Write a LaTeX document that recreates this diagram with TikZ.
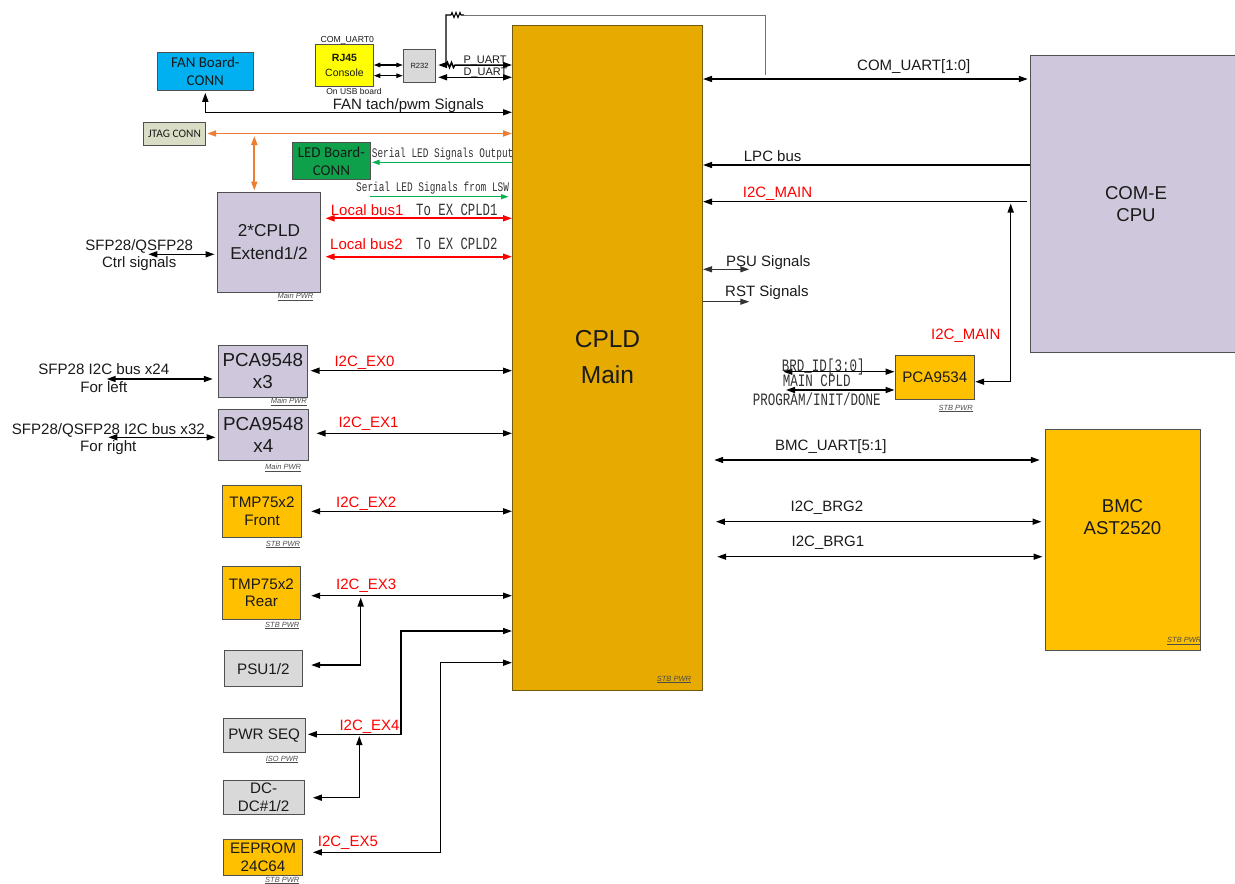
\documentclass[tikz,border=0pt]{standalone}
\usepackage{fontspec}
\setmainfont{Liberation Sans}
\newfontfamily\calfont{Carlito}
\newfontfamily\simfont[FakeStretch=0.72]{Liberation Mono}
\usetikzlibrary{arrows.meta}
\newcommand\fsz[2]{\fontsize{#1}{#2}\selectfont}
\definecolor{cpldc}{HTML}{E6AA00}
\definecolor{cpldedge}{HTML}{6E5A10}
\definecolor{orng}{HTML}{FFC000}
\definecolor{lav}{HTML}{CFC8DD}
\definecolor{lgray}{HTML}{D9D9D9}
\definecolor{fanblue}{HTML}{00B0F0}
\definecolor{ledgreen}{HTML}{0FA04B}
\definecolor{jtagc}{HTML}{DADDC5}
\definecolor{jorange}{HTML}{ED7D31}
\definecolor{sgreen}{HTML}{00B050}
\definecolor{rjy}{HTML}{FFFF00}
\definecolor{boxedge}{HTML}{505050}
\definecolor{txt}{HTML}{1A1A1A}
\definecolor{simgray}{HTML}{333333}
\begin{document}
\begin{tikzpicture}[x=1pt,y=-1pt,
  >={Triangle[length=9pt,width=6pt]},
  box/.style={draw=boxedge, line width=1pt, inner sep=0pt, align=center, text=txt},
  wire/.style={line width=1.5pt, draw=black},
  thinw/.style={line width=1.1pt, draw=black!80},
  smallw/.style={line width=1.1pt, draw=black, >={Triangle[length=6.5pt,width=4.5pt]}},
  owire/.style={line width=1.9pt, draw=jorange},
  rwire/.style={line width=1.7pt, draw=red},
  gwire/.style={line width=1.1pt, draw=sgreen, >={Triangle[length=7.5pt,width=5pt]}},
  lbl/.style={inner sep=0pt, anchor=base west, text=txt, font=\fsz{15}{18}},
  rlbl/.style={lbl, text=red},
  slbl/.style={inner sep=0pt, anchor=base west, text=simgray},
  pwr/.style={inner sep=0pt, anchor=base west, font=\fsz{7.5}{9}\itshape, text=black!70},
  mlbl/.style={inner sep=0pt, anchor=base, align=center, text=txt, font=\fsz{15}{18}},
]
\useasboundingbox (0,0) rectangle (1235,884);

% ---------- main boxes ----------
\node[box, fill=cpldc, draw=cpldedge, minimum width=190, minimum height=665, font=\fsz{24.5}{36}] (cpld) at (607.5,357.5) {CPLD\\Main};
\node[box, fill=lav, minimum width=212, minimum height=296.5, font=\fsz{18.6}{22}] (come) at (1136,203.75) {COM-E\\CPU};
\node[box, fill=orng, minimum width=154.3, minimum height=220.7] (bmc) at (1122.85,539.65) {};
\node[inner sep=0pt, align=center, text=txt, font=\fsz{18.6}{22}] (bmctext) at (1122.5,516.7) {BMC\\AST2520};

% ---------- top-left boxes ----------
\node[box, fill=fanblue, minimum width=96, minimum height=37.7, font=\calfont\fsz{15}{18.3}] (fan) at (205.3,71.15) {FAN Board-\\CONN};
\node[box, fill=jtagc, minimum width=62.4, minimum height=22.3, font=\calfont\fsz{11.4}{13}] (jtag) at (174.5,133.85) {JTAG CONN};
\node[box, fill=rjy, minimum width=57.6, minimum height=42.4, font=\fsz{10.5}{14.4}] (rj45) at (344.5,65.5) {\textbf{RJ45}\\Console};
\node[box, fill=lgray, minimum width=32.4, minimum height=33.3, font=\fsz{7.5}{9}] (r232) at (419.5,65.65) {R232};
\node[box, fill=ledgreen, minimum width=77.3, minimum height=36.6, font=\calfont\fsz{15}{17.7}] (led) at (331.35,161) {LED Board-\\CONN};
\node[box, fill=lav, minimum width=103.4, minimum height=99.3, font=\fsz{17.2}{23.3}] (ext) at (269,242.35) {2*CPLD\\Extend1/2};

% ---------- left column ----------
\node[box, fill=lav, minimum width=89, minimum height=52.3, font=\fsz{18.8}{22.6}] (pca3) at (262.8,371.15) {PCA9548\\x3};
\node[box, fill=lav, minimum width=90, minimum height=51.7, font=\fsz{18.8}{21.7}] (pca4) at (263.3,434.85) {PCA9548\\x4};
\node[box, fill=orng, minimum width=79.4, minimum height=52.3, font=\fsz{15.2}{18.3}] (tmpf) at (262,511.15) {TMP75x2\\Front};
\node[box, fill=orng, minimum width=77.3, minimum height=52.3, font=\fsz{15.2}{17.4}] (tmpr) at (261.35,592.85) {TMP75x2\\Rear};
\node[box, fill=lgray, minimum width=78.7, minimum height=36, font=\fsz{15.2}{18}] (psu) at (263.35,668.7) {PSU1/2};
\node[box, fill=lgray, minimum width=81.7, minimum height=34.4, font=\fsz{15.2}{18}] (pwrseq) at (264.15,735.5) {PWR SEQ};
\node[box, fill=lgray, minimum width=80.7, minimum height=34, font=\fsz{15.2}{18}] (dcdc) at (263.65,797) {DC-\\DC\#1/2};
\node[box, fill=orng, minimum width=79.4, minimum height=36, font=\fsz{15.2}{17.7}] (eeprom) at (263,857) {EEPROM\\24C64};

% ---------- right ----------
\node[box, fill=orng, minimum width=79.7, minimum height=44.3, font=\fsz{15.2}{18}] (pca9534) at (934.85,377.15) {PCA9534};

% ---------- power labels ----------
\node[pwr] (p1) at (656.7,681) {\underline{STB PWR}};
\node[pwr] (p2) at (1167,642.7) {\underline{STB PWR}};
\node[pwr] (p3) at (938.3,410) {\underline{STB PWR}};
\node[pwr] (p4) at (277.3,298.5) {\underline{Main PWR}};
\node[pwr] (p5) at (270.7,403.5) {\underline{Main PWR}};
\node[pwr] (p6) at (265,469.5) {\underline{Main PWR}};
\node[pwr] (p7) at (265.7,546.2) {\underline{STB PWR}};
\node[pwr] (p8) at (265,627.2) {\underline{STB PWR}};
\node[pwr] (p9) at (265.7,761.2) {\underline{ISO PWR}};
\node[pwr] (p10) at (265,882.2) {\underline{STB PWR}};

% ---------- top-left connectors ----------
\node[inner sep=0pt, anchor=base, text=txt, font=\fsz{8.7}{10}] (cu0) at (347.3,42.7) {COM\_UART0};
\node[inner sep=0pt, anchor=base, text=txt, font=\fsz{8.5}{10}] (usb) at (354,94.3) {On USB board};
\draw[smallw,<->] (rj45.east |- 0,65) -- (r232.west |- 0,65);
\draw[smallw,<->] (rj45.east |- 0,75.7) -- (r232.west |- 0,75.7);

\coordinate (tapP) at (446,65);
\coordinate (tapC) at (765.5,75);
\draw[wire,<->,shorten <=2pt] (r232.east |- 0,65) -- (446.5,65) -- (447.5,62.5) -- (449.5,67.5) -- (451.5,62.5) -- (453.5,67.5) -- (455,65) -- (cpld.west |- 0,65);
\draw[wire,<->,shorten <=2pt] (r232.east |- 0,77.3) -- (cpld.west |- 0,77.3);
\draw[line width=1.1pt] (tapP) -- (446,15) -- (451,15) -- (452,12.5) -- (454,17.5) -- (456,12.5) -- (458,17.5) -- (460,12.5) -- (461,15) -- (464,15);
\draw[line width=0.9pt, draw=black!55] (464,15) -- (765.5,15) -- (tapC);
\node[lbl, font=\fsz{11}{13}] (puart) at (463.3,63.3) {P\_UART};
\node[lbl, font=\fsz{11}{13}] (duart) at (463.3,75.7) {D\_UART};

\draw[wire,<->,shorten <=2.3pt] (fan.south) -- (205.3,112.3) -- (cpld.west |- 0,112.3);
\node[lbl] (fant) at (332.7,109.5) {FAN tach/pwm Signals};

\draw[owire,<->,shorten <=1pt] (jtag.east |- 0,133.5) -- (cpld.west |- 0,133.5);
\coordinate (jtagtap) at (254.3,136);
\draw[owire,<->,shorten >=1.7pt] (jtagtap) -- (ext.north -| 254.3,0);

\draw[gwire,->,shorten >=1.5pt] (cpld.west |- 0,162.3) -- (led.east |- 0,162.3);
\node[slbl, font=\simfont\fsz{13.1}{15}] (ledo) at (371.7,157.7) {Serial LED Signals Output};
\coordinate (lswin) at (370,196.7);
\draw[gwire,->,shorten >=3.5pt] (lswin) -- (cpld.west |- 0,196.7);
\node[slbl, font=\simfont\fsz{13.1}{15}] (ledi) at (356,191) {Serial LED Signals from LSW};

\draw[rwire,<->,shorten <=4.3pt] (ext.east |- 0,218.3) -- (cpld.west |- 0,218.3);
\draw[rwire,<->,shorten <=4.3pt] (ext.east |- 0,256.7) -- (cpld.west |- 0,256.7);
\node[rlbl] (lb1) at (330.7,215) {Local bus1};
\node[rlbl] (lb2) at (330,249) {Local bus2};
\node[slbl, font=\simfont\fsz{17.1}{19}] (tx1) at (416,215.5) {To EX CPLD1};
\node[slbl, font=\simfont\fsz{17.1}{19}] (tx2) at (416,249.3) {To EX CPLD2};

\coordinate (ctrlL) at (148.3,254.3);
\draw[wire,<->,shorten >=2.3pt] (ctrlL) -- (ext.west |- 0,254.3);
\node[mlbl, font=\fsz{15}{17.3}] (ctrlt) at (139.2,267.3) {SFP28/QSFP28\\Ctrl signals};

% ---------- PCA9548 ----------
\coordinate (sfpL) at (106.7,379);
\draw[wire,<->,shorten >=5pt] (sfpL) -- (pca3.west |- 0,379);
\node[mlbl, font=\fsz{15.1}{18.4}] (sfp24) at (103.8,392.7) {SFP28 I2C bus x24\\For left};
\coordinate (qsfpL) at (108.3,437.3);
\draw[wire,<->,shorten >=2.3pt] (qsfpL) -- (pca4.west |- 0,437.3);
\node[mlbl, font=\fsz{15.1}{17.7}] (sfp32) at (108.3,451.7) {SFP28/QSFP28 I2C bus x32\\For right};

\draw[wire,<->,shorten <=2.7pt] (pca3.east |- 0,370.7) -- (cpld.west |- 0,370.7);
\node[rlbl] (ex0) at (334.3,366.2) {I2C\_EX0};
\draw[wire,<->,shorten <=7.7pt] (pca4.east |- 0,433.3) -- (cpld.west |- 0,433.3);
\node[rlbl] (ex1) at (338.3,427.3) {I2C\_EX1};
\draw[wire,<->,shorten <=9pt] (tmpf.east |- 0,511.3) -- (cpld.west |- 0,511.3);
\node[rlbl] (ex2) at (336,507.8) {I2C\_EX2};
\draw[wire,<->,shorten <=10.7pt] (tmpr.east |- 0,595.7) -- (cpld.west |- 0,595.7);
\node[rlbl] (ex3) at (336,589) {I2C\_EX3};
\coordinate (ex3tap) at (360.7,597.5);
\draw[wire,<->,shorten <=8pt] (psu.east |- 0,665) -- (360.7,665) -- (ex3tap);

\draw[wire,<->,shorten <=2.3pt] (pwrseq.east |- 0,734.3) -- (401,734.3) -- (401,631) -- (cpld.west |- 0,631);
\node[rlbl] (ex4) at (339.3,730) {I2C\_EX4};
\coordinate (ex4tap) at (359.3,736);
\draw[wire,<->,shorten <=8.3pt] (dcdc.east |- 0,797.7) -- (359.3,797.7) -- (ex4tap);
\draw[wire,<->,shorten <=9.6pt] (eeprom.east |- 0,852.3) -- (440.7,852.3) -- (440.7,662.7) -- (cpld.west |- 0,662.7);
\node[rlbl] (ex5) at (317.7,846.7) {I2C\_EX5};

% ---------- right connectors ----------
\draw[wire,<->,shorten >=1.7pt] (cpld.east |- 0,79) -- (come.west |- 0,79);
\node[lbl] (cu10) at (857,70.7) {COM\_UART[1:0]};
\draw[wire,->] (come.west |- 0,165) -- (cpld.east |- 0,165);
\node[lbl] (lpc) at (743.7,161.8) {LPC bus};
\draw[wire,->,shorten <=3pt] (come.west |- 0,201.7) -- (cpld.east |- 0,201.7);
\node[rlbl] (i2cm1) at (742.7,197.3) {I2C\_MAIN};
\coordinate (i2ctap) at (1010.7,203.5);
\draw[wire,<->] (i2ctap) -- (1010.7,381.7) -- (pca9534.east |- 0,381.7);
\node[rlbl] (i2cm2) at (931,339.3) {I2C\_MAIN};

\coordinate (psuR) at (749.3,269.3);
\draw[thinw,<->] (cpld.east |- 0,269.3) -- (psuR);
\node[lbl] (psus) at (726,266.2) {PSU Signals};
\coordinate (rstR) at (749.3,301.7);
\draw[thinw,->] (cpld.east |- 0,301.7) -- (rstR);
\node[lbl] (rsts) at (725,296.7) {RST Signals};

\coordinate (brdL) at (783.3,371.7);
\coordinate (progL) at (786,390);
\draw[wire,<->] (brdL) -- (pca9534.west |- 0,371.7);
\draw[wire,<->] (progL) -- (pca9534.west |- 0,390);
\node[slbl, font=\simfont\fsz{17.4}{19}] (brd) at (781.7,371.7) {BRD\_ID[3:0]};
\node[slbl, font=\simfont\fsz{17.4}{19}] (mcpld) at (782.7,386.7) {MAIN CPLD};
\node[slbl, font=\simfont\fsz{17.4}{19}] (prog) at (752.7,405) {PROGRAM/INIT/DONE};

\draw[wire,<->,shorten <=11.2pt,shorten >=5.4pt] (cpld.east |- 0,460) -- (bmc.west |- 0,460);
\node[lbl] (bu) at (775,450.7) {BMC\_UART[5:1]};
\draw[wire,<->,shorten <=12.9pt,shorten >=3.7pt] (cpld.east |- 0,521.7) -- (bmc.west |- 0,521.7);
\node[lbl] (brg2) at (790.4,511) {I2C\_BRG2};
\draw[wire,<->,shorten <=14.2pt,shorten >=2.7pt] (cpld.east |- 0,556.7) -- (bmc.west |- 0,556.7);
\node[lbl] (brg1) at (791.5,546) {I2C\_BRG1};
\end{tikzpicture}
\end{document}
